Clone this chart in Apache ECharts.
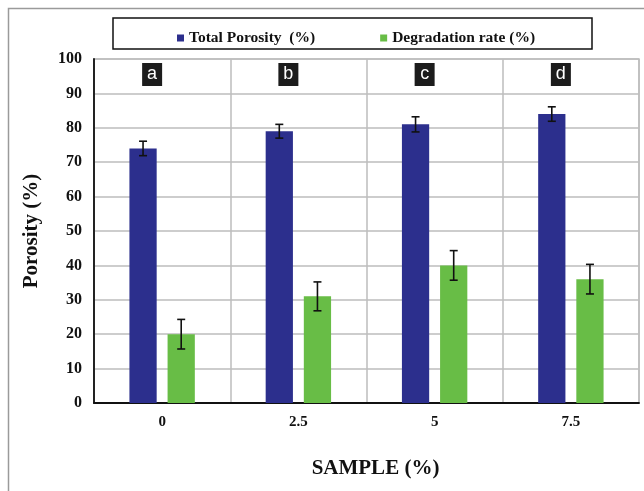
<!DOCTYPE html>
<html>
<head>
<meta charset="utf-8">
<script src="https://cdn.jsdelivr.net/npm/echarts@6/dist/echarts.min.js"></script>
<style>html,body{margin:0;padding:0;background:#fff}#c{width:644px;height:491px}</style>
</head>
<body>
<div id="c"></div>
<script>
const categories = ['0', '2.5', '5', '7.5'];
const porosity = [74, 79, 81, 84];
const porosityErr = [2.1, 2.0, 2.2, 2.1];
const degradation = [20, 31, 40, 36];
const degradationErr = [4.3, 4.2, 4.3, 4.3];
const panelLetters = ['a', 'b', 'c', 'd'];
const letterLevel = 95.5;
const yTicks = { min: 0, max: 100, interval: 10 };

const BLUE = '#2c2f8d';
const GREEN = '#68bd46';
const SERIF = '"Liberation Serif", "DejaVu Serif", serif';

function errorSeries(values, errs, side) {
  return {
    type: 'custom',
    silent: true,
    z: 5,
    data: values.map((v, i) => [i, v, errs[i]]),
    renderItem: function (params, api) {
      const i = api.value(0), v = api.value(1), e = api.value(2);
      const band = api.size([1, 0])[0];
      const off = side * band * 0.14;
      const top = api.coord([i, v + e]);
      const bot = api.coord([i, v - e]);
      const x = top[0] + off;
      const cap = 4;
      const st = { stroke: '#111', lineWidth: 1.6 };
      return {
        type: 'group',
        children: [
          { type: 'line', shape: { x1: x, y1: top[1], x2: x, y2: bot[1] }, style: st },
          { type: 'line', shape: { x1: x - cap, y1: top[1], x2: x + cap, y2: top[1] }, style: st },
          { type: 'line', shape: { x1: x - cap, y1: bot[1], x2: x + cap, y2: bot[1] }, style: st }
        ]
      };
    }
  };
}

const chart = echarts.init(document.getElementById('c'), null, { renderer: 'canvas' });
chart.setOption({
  animation: false,
  backgroundColor: '#fff',
  graphic: [
    { type: 'rect', left: 6, top: 6, shape: { x: 0, y: 0, width: 700, height: 600 }, style: { fill: 'none', stroke: '#9a9a9a', lineWidth: 1.5 }, z: -10 },
    { type: 'rect', shape: { x: 113, y: 18, width: 479, height: 31 }, style: { fill: '#fff', stroke: '#111', lineWidth: 1.5 }, z: -5 }
  ],
  legend: {
    left: 172,
    top: 25,
    itemWidth: 7,
    itemHeight: 7,
    itemGap: 65,
    icon: 'rect',
    textStyle: { fontFamily: SERIF, fontWeight: 'bold', fontSize: 15.5, color: '#111' },
    data: ['Total Porosity  (%)', 'Degradation rate (%)']
  },
  grid: {
    left: 94, right: 5, top: 59, bottom: 88,
    show: true, borderColor: '#bdbdbd', borderWidth: 1.5, backgroundColor: '#fff'
  },
  xAxis: {
    type: 'category',
    data: categories,
    boundaryGap: true,
    name: 'SAMPLE (%)',
    nameLocation: 'middle',
    nameGap: 55,
    nameTextStyle: { fontFamily: SERIF, fontWeight: 'bold', fontSize: 21, color: '#111', padding: [0, 0, 0, 18] },
    axisLine: { show: true, lineStyle: { color: '#111', width: 1.8 } },
    axisTick: { show: false },
    axisLabel: { margin: 12, fontFamily: SERIF, fontWeight: 'bold', fontSize: 15, color: '#111' },
    splitLine: { show: true, lineStyle: { color: '#bdbdbd', width: 1.5 } }
  },
  yAxis: {
    type: 'value',
    min: yTicks.min, max: yTicks.max, interval: yTicks.interval,
    name: 'Porosity (%)',
    nameLocation: 'middle',
    nameGap: 52,
    nameTextStyle: { fontFamily: SERIF, fontWeight: 'bold', fontSize: 21, color: '#111' },
    axisLine: { show: true, lineStyle: { color: '#111', width: 1.8 } },
    axisTick: { show: false },
    axisLabel: { margin: 12, fontFamily: SERIF, fontWeight: 'bold', fontSize: 16, color: '#111' },
    splitLine: { show: true, lineStyle: { color: '#bdbdbd', width: 1.5 } }
  },
  series: [
    { name: 'Total Porosity  (%)', type: 'bar', data: porosity, barWidth: '20%', barGap: '40%', itemStyle: { color: BLUE } },
    { name: 'Degradation rate (%)', type: 'bar', data: degradation, barWidth: '20%', barGap: '40%', itemStyle: { color: GREEN } },
    errorSeries(porosity, porosityErr, -1),
    errorSeries(degradation, degradationErr, 1),
    {
      type: 'scatter',
      silent: true,
      z: 6,
      data: panelLetters.map((l, i) => [i, letterLevel]),
      symbol: 'rect',
      symbolSize: [20, 23],
      symbolOffset: [-10, 0],
      itemStyle: { color: '#1c1c1c', opacity: 1 },
      label: {
        show: true,
        position: 'inside',
        formatter: p => panelLetters[p.dataIndex],
        fontFamily: '"Liberation Sans", Arial, sans-serif',
        fontSize: 18,
        color: '#fff'
      }
    }
  ]
});
</script>
</body>
</html>
